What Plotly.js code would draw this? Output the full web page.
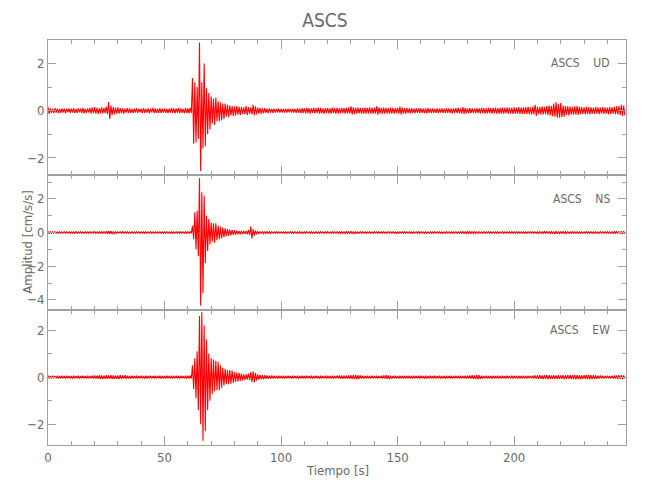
<!DOCTYPE html>
<html>
<head>
<meta charset="utf-8">
<script src="https://cdn.plot.ly/plotly-3.0.1.min.js"></script>
<style>html,body{margin:0;padding:0;background:#fff;}#chart{width:650px;height:500px;}</style>
</head>
<body>
<div id="chart"></div>
<script>
// ---- data ----
const station = 'ASCS';
const channels = ['UD', 'NS', 'EW'];
const sampleStep = 0.5;            // seconds between successive peak readings
const xTickVals = [0, 50, 100, 150, 200];
const xTickText = ['0', '50', '100', '150', '200'];
const yTickVals = [-4, -2, 0, 2];

// alternating positive / negative peak amplitudes [cm/s/s], every 0.5 s
const udPeaks = [
.15,-.14,.10,-.09,.08,-.10,.11,-.08,.09,-.10,.07,-.09,.10,-.08,.09,-.11,.08,-.07,.10,-.09,
.09,-.08,.11,-.10,.08,-.09,.10,-.07,.09,-.10,.12,-.11,.08,-.09,.10,-.08,.11,-.12,.13,-.10,
.15,-.12,.12,-.14,.10,-.11,.14,-.12,.12,-.10,.16,-.15,.37,-.35,.22,-.18,.15,-.16,.12,-.13,
.14,-.12,.11,-.10,.10,-.12,.09,-.08,.11,-.10,.10,-.09,.08,-.10,.09,-.08,.10,-.09,.08,-.07,
.09,-.10,.11,-.09,.08,-.08,.10,-.11,.09,-.07,.12,-.10,.10,-.09,.08,-.09,.11,-.10,.09,-.08,
.10,-.09,.08,-.10,.09,-.08,.11,-.09,.10,-.11,.09,-.08,.12,-.10,.10,-.09,.08,-.10,.11,-.09,
.10,-.11,.12,-.10,1.38,-1.40,1.20,-1.35,1.00,-1.20,2.88,-2.55,1.20,-1.60,2.00,-1.50,.95,-1.00,.75,-.80,
.60,-.55,.50,-.60,.55,-.45,.40,-.45,.35,-.40,.30,-.35,.30,-.25,.25,-.28,.22,-.20,.20,-.22,
.18,-.20,.20,-.17,.16,-.18,.15,-.14,.14,-.16,.20,-.18,.15,-.13,.14,-.15,.25,-.20,.18,-.16,
.13,-.12,.12,-.13,.10,-.11,.11,-.09,.09,-.10,.10,-.08,.08,-.09,.09,-.08,.08,-.07,.09,-.08,
.08,-.07,.07,-.08,.09,-.08,.08,-.07,.07,-.08,.09,-.08,.08,-.09,.10,-.08,.09,-.10,.11,-.09,
.10,-.11,.12,-.10,.11,-.12,.10,-.09,.12,-.11,.11,-.10,.13,-.12,.12,-.11,.10,-.12,.11,-.10,
.12,-.11,.10,-.12,.13,-.10,.11,-.12,.12,-.13,.10,-.11,.12,-.10,.11,-.12,.13,-.11,.14,-.12,
.18,-.16,.14,-.15,.12,-.13,.13,-.11,.12,-.12,.11,-.13,.13,-.12,.12,-.11,.14,-.13,.12,-.12,
.13,-.12,.18,-.17,.14,-.13,.12,-.13,.13,-.12,.12,-.11,.11,-.12,.13,-.12,.12,-.13,.11,-.10,
.12,-.13,.17,-.16,.13,-.12,.11,-.12,.12,-.10,.10,-.11,.11,-.10,.09,-.10,.10,-.09,.11,-.10,
.10,-.09,.09,-.10,.10,-.11,.11,-.09,.09,-.10,.10,-.09,.08,-.09,.10,-.10,.09,-.08,.10,-.09,
.09,-.10,.11,-.09,.10,-.10,.09,-.11,.10,-.09,.11,-.10,.12,-.11,.10,-.12,.15,-.14,.12,-.11,
.10,-.11,.11,-.10,.10,-.09,.09,-.10,.11,-.10,.10,-.11,.12,-.10,.11,-.12,.10,-.11,.12,-.10,
.11,-.12,.12,-.11,.13,-.12,.11,-.12,.12,-.13,.13,-.12,.12,-.11,.14,-.13,.13,-.12,.12,-.14,
.14,-.13,.13,-.12,.15,-.14,.13,-.15,.14,-.13,.15,-.14,.16,-.15,.14,-.16,.17,-.15,.25,-.22,
.16,-.15,.15,-.17,.18,-.16,.16,-.15,.20,-.18,.22,-.20,.20,-.23,.30,-.26,.35,-.30,.28,-.30,
.32,-.28,.22,-.25,.20,-.18,.18,-.20,.17,-.16,.15,-.17,.18,-.16,.20,-.18,.16,-.15,.15,-.14,
.14,-.15,.16,-.14,.15,-.16,.14,-.13,.13,-.14,.15,-.13,.14,-.15,.13,-.12,.15,-.14,.14,-.13,
.13,-.15,.15,-.14,.14,-.13,.16,-.15,.18,-.16,.20,-.18,.25,-.22,.22,-.20
];
const nsPeaks = [
.08,-.07,.05,-.05,.04,-.05,.05,-.04,.04,-.05,.05,-.04,.04,-.04,.05,-.05,.04,-.04,.05,-.05,
.04,-.05,.05,-.04,.05,-.05,.04,-.04,.05,-.05,.04,-.05,.05,-.04,.04,-.05,.05,-.04,.04,-.04,
.05,-.05,.04,-.05,.05,-.04,.06,-.05,.05,-.06,.08,-.07,.10,-.09,.09,-.08,.07,-.06,.05,-.05,
.05,-.04,.04,-.05,.05,-.05,.04,-.04,.05,-.05,.04,-.04,.05,-.05,.04,-.05,.05,-.04,.04,-.05,
.05,-.04,.04,-.05,.05,-.05,.04,-.04,.05,-.05,.04,-.05,.05,-.04,.04,-.04,.05,-.05,.04,-.05,
.04,-.05,.05,-.04,.04,-.05,.05,-.05,.04,-.04,.05,-.05,.04,-.05,.05,-.04,.04,-.05,.05,-.05,
.05,-.04,.06,-.05,.40,-.40,1.20,-1.00,1.30,-1.40,3.23,-4.35,2.40,-3.60,2.20,-1.80,1.00,-1.10,.80,-.70,
.60,-.55,.55,-.60,.55,-.45,.40,-.40,.35,-.35,.30,-.28,.25,-.22,.20,-.20,.18,-.16,.15,-.14,
.14,-.12,.12,-.11,.10,-.10,.10,-.09,.09,-.08,.10,-.09,.15,-.12,.35,-.35,.20,-.18,.12,-.10,
.08,-.08,.07,-.06,.06,-.06,.05,-.05,.06,-.05,.05,-.05,.05,-.04,.04,-.05,.05,-.05,.04,-.04,
.05,-.04,.04,-.05,.05,-.05,.04,-.04,.05,-.05,.04,-.05,.05,-.04,.04,-.04,.05,-.05,.04,-.05,
.04,-.05,.05,-.04,.04,-.05,.05,-.05,.04,-.04,.05,-.05,.04,-.05,.05,-.04,.04,-.05,.05,-.05,
.05,-.04,.04,-.05,.05,-.05,.04,-.04,.05,-.05,.05,-.05,.06,-.05,.05,-.06,.06,-.05,.05,-.05,
.08,-.07,.07,-.06,.05,-.05,.04,-.05,.05,-.04,.04,-.05,.05,-.05,.04,-.04,.05,-.05,.04,-.05,
.05,-.04,.04,-.05,.05,-.05,.04,-.04,.05,-.05,.04,-.05,.05,-.04,.04,-.04,.05,-.05,.04,-.05,
.04,-.05,.05,-.04,.04,-.05,.05,-.05,.04,-.04,.05,-.05,.04,-.05,.05,-.04,.04,-.05,.05,-.05,
.05,-.04,.04,-.05,.05,-.05,.04,-.04,.05,-.05,.04,-.05,.05,-.04,.04,-.04,.05,-.05,.04,-.05,
.04,-.05,.05,-.04,.04,-.05,.05,-.05,.04,-.04,.05,-.05,.04,-.05,.05,-.04,.06,-.05,.05,-.06,
.06,-.05,.08,-.07,.06,-.06,.05,-.05,.04,-.05,.05,-.04,.04,-.05,.05,-.05,.04,-.04,.05,-.05,
.04,-.05,.05,-.04,.04,-.05,.05,-.05,.04,-.04,.05,-.05,.04,-.05,.05,-.04,.04,-.05,.05,-.05,
.05,-.04,.04,-.05,.05,-.05,.04,-.04,.05,-.05,.04,-.05,.05,-.04,.04,-.04,.05,-.05,.04,-.05,
.04,-.05,.05,-.04,.05,-.05,.06,-.05,.07,-.06,.06,-.07,.08,-.07,.07,-.08,.08,-.07,.06,-.06,
.05,-.05,.06,-.05,.05,-.06,.05,-.05,.04,-.05,.05,-.04,.04,-.05,.05,-.05,.04,-.04,.05,-.05,
.04,-.05,.05,-.04,.04,-.05,.05,-.05,.04,-.04,.05,-.05,.04,-.05,.05,-.04,.04,-.05,.05,-.05,
.05,-.04,.04,-.05,.05,-.05,.06,-.05,.06,-.06,.07,-.06,.08,-.08,.08,-.07
];
const ewPeaks = [
.07,-.06,.05,-.06,.06,-.05,.05,-.05,.06,-.06,.05,-.05,.06,-.05,.05,-.06,.06,-.05,.05,-.05,
.05,-.06,.06,-.05,.05,-.05,.06,-.06,.05,-.05,.06,-.05,.05,-.06,.06,-.05,.05,-.05,.06,-.06,
.07,-.06,.06,-.07,.08,-.07,.07,-.08,.06,-.07,.08,-.07,.07,-.06,.08,-.08,.07,-.07,.06,-.07,
.07,-.08,.08,-.07,.07,-.06,.08,-.07,.06,-.06,.05,-.06,.06,-.05,.05,-.05,.06,-.06,.05,-.05,
.06,-.05,.05,-.06,.06,-.06,.05,-.05,.06,-.05,.05,-.06,.06,-.05,.05,-.05,.06,-.06,.05,-.05,
.05,-.06,.06,-.05,.05,-.05,.06,-.06,.05,-.05,.06,-.05,.05,-.06,.06,-.05,.05,-.05,.06,-.06,
.06,-.05,.07,-.06,.50,-.50,.80,-.90,1.10,-1.40,2.60,-2.00,2.75,-2.70,2.20,-2.30,1.60,-1.40,1.00,-1.00,
.80,-.70,.75,-.60,.70,-.55,.65,-.55,.50,-.45,.40,-.35,.35,-.30,.30,-.30,.30,-.28,.28,-.25,
.22,-.20,.20,-.18,.18,-.16,.15,-.14,.12,-.12,.12,-.10,.15,-.12,.22,-.20,.25,-.22,.18,-.15,
.12,-.10,.10,-.09,.09,-.08,.08,-.07,.07,-.07,.06,-.06,.07,-.06,.06,-.05,.05,-.06,.06,-.05,
.05,-.05,.06,-.06,.05,-.05,.06,-.05,.05,-.06,.06,-.05,.05,-.05,.06,-.06,.05,-.05,.06,-.05,
.05,-.06,.06,-.05,.05,-.05,.06,-.06,.05,-.05,.06,-.05,.05,-.06,.06,-.05,.05,-.05,.06,-.06,
.06,-.05,.05,-.06,.06,-.06,.05,-.05,.06,-.05,.07,-.06,.06,-.07,.07,-.06,.06,-.06,.07,-.07,
.08,-.07,.09,-.08,.10,-.09,.08,-.07,.07,-.06,.06,-.06,.05,-.05,.06,-.05,.05,-.06,.06,-.05,
.05,-.05,.06,-.06,.05,-.05,.06,-.05,.07,-.06,.08,-.07,.07,-.08,.06,-.06,.05,-.05,.06,-.05,
.05,-.06,.06,-.05,.05,-.05,.06,-.06,.05,-.05,.06,-.05,.05,-.06,.06,-.05,.05,-.05,.06,-.06,
.06,-.05,.05,-.06,.06,-.06,.05,-.05,.06,-.05,.05,-.06,.06,-.05,.05,-.05,.06,-.06,.05,-.05,
.05,-.06,.06,-.05,.05,-.05,.06,-.06,.05,-.05,.06,-.05,.05,-.06,.06,-.05,.05,-.05,.06,-.06,
.06,-.05,.07,-.06,.08,-.07,.07,-.08,.10,-.09,.08,-.07,.06,-.06,.05,-.05,.06,-.05,.05,-.06,
.05,-.06,.06,-.05,.05,-.05,.06,-.06,.05,-.05,.06,-.05,.05,-.06,.06,-.05,.05,-.05,.06,-.06,
.06,-.05,.05,-.06,.06,-.06,.05,-.05,.06,-.05,.05,-.06,.06,-.05,.05,-.05,.06,-.06,.07,-.06,
.07,-.07,.08,-.07,.07,-.08,.08,-.07,.09,-.08,.08,-.08,.07,-.07,.08,-.07,.07,-.08,.08,-.07,
.07,-.07,.08,-.08,.07,-.07,.08,-.07,.09,-.08,.08,-.08,.10,-.09,.09,-.08,.08,-.08,.07,-.07,
.08,-.07,.09,-.08,.10,-.09,.09,-.08,.08,-.07,.07,-.07,.06,-.06,.07,-.06,.06,-.06,.05,-.05,
.06,-.05,.05,-.06,.06,-.06,.07,-.06,.07,-.07,.08,-.07,.08,-.08,.07,-.06
];

// ---- figure ----
const FONT = '"Liberation Sans Narrow", "DejaVu Sans Condensed", "Roboto Condensed", "Liberation Sans", sans-serif';
const TXT = '#6a6a6a';
const AX = '#a0a0a0';
const xRange = [0, 248];
const yRanges = [[-2.72, 2.99], [-4.6, 3.42], [-2.88, 2.85]];
const domains = [[0.6667, 1], [0.3333, 0.6667], [0, 0.3333]];
const series = [udPeaks, nsPeaks, ewPeaks];

function times(arr) { return arr.map((_, i) => i * sampleStep); }

const traces = series.map((vals, k) => {
  const n = k + 1;
  return {
    x: times(vals), y: vals, type: 'scatter', mode: 'lines',
    xaxis: n === 1 ? 'x' : 'x' + n, yaxis: n === 1 ? 'y' : 'y' + n,
    line: { color: '#ff0000', width: 1.1 }, hoverinfo: 'skip', showlegend: false
  };
});

const layout = {
  width: 650, height: 500,
  margin: { l: 48, r: 24, t: 40, b: 55 },
  paper_bgcolor: '#ffffff', plot_bgcolor: '#ffffff',
  font: { family: FONT, color: TXT, size: 13 },
  showlegend: false,
  hovermode: false,
  title: { text: station, font: { family: FONT, size: 19, color: TXT },
           x: 0.5, xanchor: 'center', xref: 'container', y: 0.96, yanchor: 'middle', yref: 'container' },
  annotations: [
    { text: 'Amplitud [cm/s/s]', textangle: -90, xref: 'paper', yref: 'paper',
      x: -0.036, y: 0.5, xanchor: 'center', yanchor: 'middle', showarrow: false,
      font: { family: FONT, size: 13, color: TXT } },
    { text: 'Tiempo [s]', xref: 'paper', yref: 'paper', x: 0.5, y: -0.062,
      xanchor: 'center', yanchor: 'middle', showarrow: false,
      font: { family: FONT, size: 13, color: TXT } }
  ]
};

for (let k = 0; k < 3; k++) {
  const n = k + 1;
  const xName = n === 1 ? 'xaxis' : 'xaxis' + n;
  const yName = n === 1 ? 'yaxis' : 'yaxis' + n;
  const xId = n === 1 ? 'x' : 'x' + n;
  const yId = n === 1 ? 'y' : 'y' + n;
  layout[xName] = {
    domain: [0, 1], anchor: yId, range: xRange, autorange: false,
    showline: true, mirror: 'ticks', linecolor: AX, linewidth: 1,
    ticks: 'inside', ticklen: 9, tickwidth: 1, tickcolor: AX,
    tickmode: 'array', tickvals: xTickVals, ticktext: xTickText,
    minor: { dtick: 10, tick0: 0, ticks: 'inside', ticklen: 4, tickcolor: AX, showgrid: false },
    showgrid: false, zeroline: false, fixedrange: true,
    showticklabels: n === 3, tickfont: { family: FONT, size: 13, color: TXT }
  };
  if (n !== 1) layout[xName].matches = 'x';
  layout[yName] = {
    domain: domains[k], anchor: xId, range: yRanges[k], autorange: false,
    showline: true, mirror: 'ticks', linecolor: AX, linewidth: 1,
    ticks: 'inside', ticklen: 8, tickwidth: 1, tickcolor: AX,
    tickmode: 'array', tickvals: yTickVals,
    minor: { dtick: 1, tick0: 0, ticks: 'inside', ticklen: 4, tickcolor: AX, showgrid: false },
    showgrid: false, zeroline: false, fixedrange: true,
    tickfont: { family: FONT, size: 13, color: TXT }
  };
  layout.annotations.push({
    text: station + '\u00a0\u00a0\u00a0\u00a0' + channels[k],
    xref: 'paper', yref: yId, x: 0.975, y: 2, xanchor: 'right', yanchor: 'middle',
    showarrow: false, font: { family: FONT, size: 12, color: TXT }
  });
}

Plotly.newPlot('chart', traces, layout, { displayModeBar: false, staticPlot: true });
</script>
</body>
</html>
